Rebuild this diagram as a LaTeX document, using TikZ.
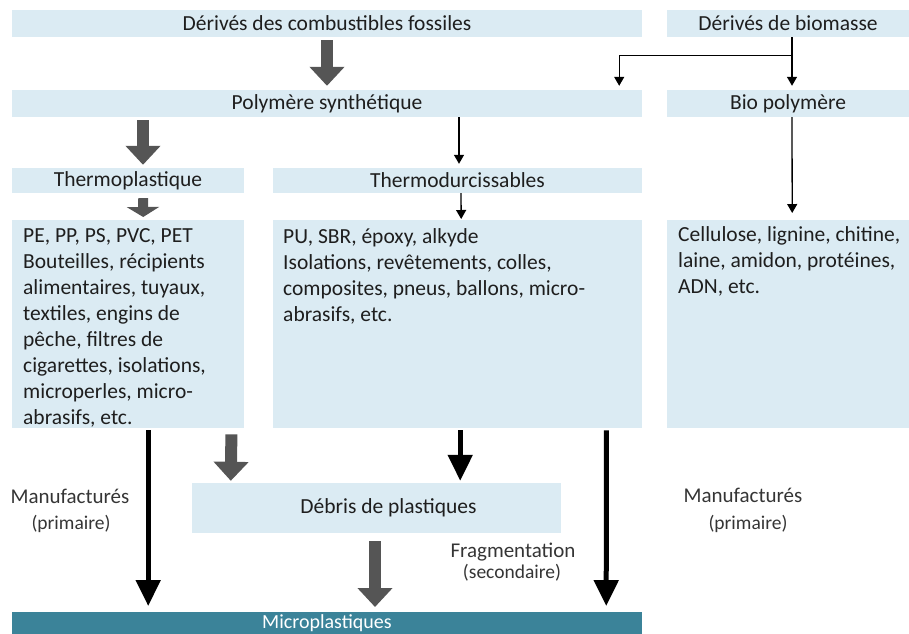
\documentclass[tikz,border=0pt]{standalone}
\usepackage{fontspec}
\setmainfont{Carlito}
\usetikzlibrary{arrows.meta, positioning, calc}
\definecolor{boxblue}{HTML}{DBEBF3}
\definecolor{microteal}{HTML}{3B8399}
\definecolor{arrowgray}{HTML}{555555}
\definecolor{textgray}{HTML}{1E1E1E}

\begin{document}
\begin{tikzpicture}[x=1pt, y=-1pt,
    every node/.style={text=textgray, font=\fontsize{21.5}{25}\selectfont},
    titlebox/.style={fill=boxblue, inner sep=0, minimum height=27},
    listbox/.style={fill=boxblue, inner sep=0, anchor=north west, minimum height=208},
    listtext/.style={anchor=north west, inner sep=0, align=left, font=\fontsize{21.5}{26}\selectfont},
    sidelabel/.style={anchor=base, text=textgray!90, font=\fontsize{21}{24}\selectfont},
    subsidelabel/.style={anchor=base, text=textgray!90, font=\fontsize{19.5}{22}\selectfont},
    grayarrow/.style={arrowgray, line width=12pt, -{Triangle[width=34pt,length=19pt]}},
    grayarrowsmall/.style={arrowgray, line width=10pt, -{Triangle[width=32pt,length=10pt]}},
    blackarrow/.style={black, line width=5pt, -{Triangle[width=24pt,length=26pt]}},
    thinarrow/.style={black, line width=1.3pt, -{Triangle[width=10pt,length=9pt]}},
]
    \useasboundingbox (0,0) rectangle (909,633);

    % Sources
    \node[titlebox, minimum width=630] (fossil)  at (327,23.5) {Dérivés des combustibles fossiles};
    \node[titlebox, minimum width=242] (biomass) at (788,23.5) {Dérivés de biomasse};

    % Polymers
    \node[titlebox, minimum width=630] (synth)   at (327,103.5) {Polymère synthétique};
    \node[titlebox, minimum width=242] (biopoly) at (788,103.5) {Bio polymère};

    % Families
    \node[titlebox, minimum width=232, minimum height=25] (thermop) at (128,180.5) {Thermoplastique};
    \node[titlebox, minimum width=369, minimum height=25] (thermod) at (457.5,180.5) {Thermodurcissables};

    % Examples
    \node[listbox, minimum width=232] (listp) at (12,220) {};
    \node[listbox, minimum width=369] (listd) at (273,220) {};
    \node[listbox, minimum width=242] (listb) at (667,220) {};
    \node[listtext] (listptxt) at ($(listp.north west)+(11,8)$)
        {PE, PP, PS, PVC, PET\\Bouteilles, récipients\\alimentaires, tuyaux,\\textiles, engins de\\pêche, filtres de\\cigarettes, isolations,\\microperles, micro-\\abrasifs, etc.};
    \node[listtext] (listdtxt) at ($(listd.north west)+(10,8)$)
        {PU, SBR, époxy, alkyde\\Isolations, revêtements, colles,\\composites, pneus, ballons, micro-\\abrasifs, etc.};
    \node[listtext] (listbtxt) at ($(listb.north west)+(11,6.5)$)
        {Cellulose, lignine, chitine,\\laine, amidon, protéines,\\ADN, etc.};

    % Debris and microplastics
    \node[titlebox, minimum width=369, minimum height=50] (debris) at (376.5,508) {\hspace*{24pt}Débris de plastiques};
    \node[fill=microteal, text=white, inner sep=0, anchor=north, minimum width=630,
          text height=16pt, text depth=14pt, font=\fontsize{20}{24}\selectfont] (micro) at (327,612) {Microplastiques};

    % Side labels
    \node[sidelabel]    (manufl) at (70,503)  {Manufacturés};
    \node[subsidelabel] (priml)  at (71,529)  {(primaire)};
    \node[sidelabel]    (frag)   at (513,557) {Fragmentation};
    \node[subsidelabel] (second) at (512,578) {(secondaire)};
    \node[sidelabel]    (manufr) at (743,502) {Manufacturés};
    \node[subsidelabel] (primr)  at (748,529) {(primaire)};

    % Top arrows
    \draw[grayarrow] ($(fossil.south)+(0,3)$) -- ($(synth.north)+(0,-4)$);
    \coordinate (split) at ($(biomass.south)+(4,18)$);
    \draw[thinarrow] ($(biomass.south)+(4,0)$) -- ($(biopoly.north)+(4,-4)$);
    \draw[thinarrow] (split) -| ($(synth.north east)+(-23,-4)$);

    % Polymers to families
    \draw[grayarrow] ($(synth.south -| thermop.north)+(15,3)$) -- ($(thermop.north)+(15,-3)$);
    \draw[thinarrow] ($(synth.south -| thermod.north)+(1.5,0)$) -- ($(thermod.north)+(1.5,-4)$);
    \draw[thinarrow] ($(biopoly.south)+(4,0)$) -- ($(listb.north)+(4,-7)$);

    % Families to examples
    \draw[grayarrowsmall] ($(thermop.south)+(15,5)$) -- ($(listp.north)+(15,-3)$);
    \draw[thinarrow] ($(thermod.south)+(3.5,0)$) -- ($(listd.north)+(3.5,-1)$);

    % Towards microplastics
    \draw[blackarrow] ($(listp.south)+(20,2)$) -- ($(micro.north -| listp.south)+(20,-6)$);
    \draw[blackarrow] ($(listd.south east)+(-36,2)$) -- ($(micro.north east)+(-36,-6)$);
    \draw[grayarrow]  ($(listp.south east)+(-13,6)$) -- ($(debris.north west)+(39,-2)$);
    \draw[blackarrow] ($(listd.south)+(2.5,2)$) -- ($(debris.north -| listd.south)+(2.5,-2)$);
    \draw[grayarrow]  ($(debris.south)+(-1.5,8)$) -- ($(micro.north -| debris.south)+(-1.5,-5)$);
\end{tikzpicture}
\end{document}
